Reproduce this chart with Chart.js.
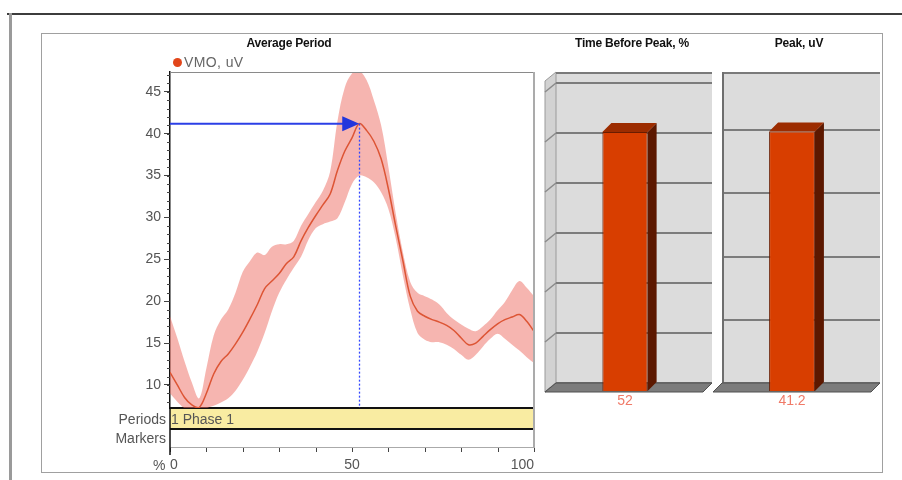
<!DOCTYPE html>
<html>
<head>
<meta charset="utf-8">
<script src="https://cdn.jsdelivr.net/npm/chart.js@4.4.1/dist/chart.umd.min.js"></script>
<style>
  html, body { margin: 0; padding: 0; background: #fff; }
  #wrap { position: relative; width: 902px; height: 480px; overflow: hidden; font-family: "Liberation Sans", Arial, sans-serif; }
  .abs { position: absolute; }
  .ttl { position: absolute; top: 36px; font-weight: bold; font-size: 12px; color: #111; white-space: nowrap; transform: translateX(-50%); letter-spacing: -0.2px; }
  .lbl { position: absolute; font-size: 14px; color: #555; white-space: nowrap; line-height: 16px; }
  canvas { position: absolute; }
</style>
</head>
<body>
<div id="wrap">
  <!-- outer frame -->
  <div class="abs" style="left:7px;top:13px;width:895px;height:2px;background:#3c3c3c"></div>
  <div class="abs" style="left:9px;top:13px;width:3px;height:467px;background:#9a9a9a"></div>
  <div class="abs" style="left:41px;top:33px;width:840px;height:438px;border:1px solid #a0a0a0"></div>

  <canvas id="avg" width="520" height="439" style="left:41px;top:33px"></canvas>
  <canvas id="tbp" width="172" height="355" style="left:540px;top:60px"></canvas>
  <canvas id="pk" width="172" height="355" style="left:712px;top:60px"></canvas>

  <div class="ttl" style="left:289px">Average Period</div>
  <div class="ttl" style="left:632px">Time Before Peak, %</div>
  <div class="ttl" style="left:799px">Peak, uV</div>

  <div class="abs" style="left:173px;top:58px;width:9px;height:9px;border-radius:50%;background:#e2461a"></div>
  <div class="lbl" style="left:184px;top:54px;color:#666;letter-spacing:0.4px">VMO, uV</div>

  <div class="lbl" style="right:736px;top:411px">Periods</div>
  <div class="lbl" style="right:736px;top:430px">Markers</div>
  <div class="lbl" style="left:171px;top:411px">1 Phase 1</div>
  <div class="lbl" style="left:153px;top:457px">%</div>
</div>

<script>
// ---- data -----------------------------------------------------------------
var pct = [0, 2, 4, 6, 8, 10, 12, 14, 16, 18, 20, 22, 24, 26, 28, 30, 32, 34, 36, 38, 40,
           42, 44, 46, 48, 50, 52, 54, 56, 58, 60, 62, 64, 66, 68, 70, 72, 74, 76, 78, 80,
           82, 84, 86, 88, 90, 92, 94, 96, 98, 100];
var meanUV = [11.5, 10.0, 8.5, 7.6, 7.3, 9.0, 11.3, 12.8, 13.7, 14.9, 16.3, 17.9, 19.6, 21.5, 22.4, 23.3, 24.5, 25.3, 27.2, 28.8, 30.2,
              31.5, 32.8, 35.6, 37.9, 39.5, 41.2, 40.4, 39.1, 37.0, 33.4, 29.0, 24.8, 20.6, 18.8, 18.2, 17.8, 17.5, 17.1, 16.5, 15.6,
              14.8, 15.0, 15.8, 16.6, 17.3, 17.8, 18.1, 18.4, 17.6, 16.4];
var upperUV = [18.2, 15.6, 12.8, 10.3, 8.4, 12.0, 15.9, 17.8, 19.0, 21.0, 23.5, 24.8, 25.8, 25.5, 26.5, 26.8, 26.8, 27.2, 29.0, 30.4, 31.8,
               33.2, 35.5, 41.5, 45.5, 47.2, 47.5, 46.4, 44.0, 41.0, 36.0, 30.5, 25.8, 22.3, 21.0, 20.6, 20.2, 19.6, 18.6, 17.8, 17.2,
               16.7, 16.4, 17.0, 17.8, 18.9, 19.9, 21.3, 22.4, 21.6, 20.6];
var lowerUV = [9.0, 8.0, 7.2, 6.8, 6.8, 7.2, 7.5, 7.9, 8.4, 9.3, 10.6, 12.2, 14.0, 16.2, 18.8, 21.0, 22.6, 24.0, 25.3, 27.3, 28.7,
               29.2, 29.5, 29.9, 31.8, 34.0, 35.0, 34.8, 34.2, 33.0, 31.0, 27.5, 23.0, 19.0, 16.2, 15.4, 15.1, 15.1, 14.8, 14.3, 13.6,
               13.0, 13.6, 14.6, 15.5, 16.1, 15.5, 14.8, 14.1, 13.3, 12.6];
var uvAxisMin = 7.24, uvAxisMax = 47.37;

var timeBeforePeak = [52];     // %
var peakUV = [41.2];           // uV
var timeAxisMax = 62.2, peakAxisMax = 49.2;

// ---- common ---------------------------------------------------------------
var FONT = '"Liberation Sans", Arial, sans-serif';
Chart.defaults.font.family = FONT;
Chart.defaults.animation = false;

function seg(ctx, x1, y1, x2, y2) { ctx.beginPath(); ctx.moveTo(x1, y1); ctx.lineTo(x2, y2); ctx.stroke(); }
function pts(vals) { return pct.map(function (x, i) { return { x: x, y: vals[i] }; }); }

/* ---- average period line chart ------------------------------------------ */
var periodsPlugin = {
  id: "periods",
  afterDatasetsDraw: function (chart) {
    var ctx = chart.ctx, a = chart.chartArea, x = chart.scales.x, y = chart.scales.y;
    var px = x.getPixelForValue(timeBeforePeak[0]), py = y.getPixelForValue(peakUV[0]);
    ctx.save();
    ctx.strokeStyle = "#2b3fe6"; ctx.lineWidth = 2;
    seg(ctx, a.left, py, px - 15, py);
    ctx.fillStyle = "#2236dc";
    ctx.beginPath(); ctx.moveTo(px - 17, py - 7.5); ctx.lineTo(px, py); ctx.lineTo(px - 17, py + 7.5); ctx.closePath(); ctx.fill();
    ctx.setLineDash([2, 2]); ctx.strokeStyle = "#3348ff"; ctx.lineWidth = 1.3;
    seg(ctx, Math.round(px) + 0.5, py, Math.round(px) + 0.5, a.bottom);
    ctx.restore();
  },
  afterDraw: function (chart) {
    var ctx = chart.ctx, a = chart.chartArea, x = chart.scales.x, y = chart.scales.y;
    ctx.save();
    ctx.strokeStyle = "#8a8a8a"; ctx.lineWidth = 1;
    seg(ctx, a.left, a.top + 0.5, a.right, a.top + 0.5);
    ctx.fillStyle = "#f9eca2";
    ctx.fillRect(a.left, a.bottom + 1, a.right - a.left, 20);
    ctx.strokeStyle = "#111"; ctx.lineWidth = 2;
    seg(ctx, a.left, a.bottom + 21, a.right, a.bottom + 21);
    ctx.strokeStyle = "#aaa"; ctx.lineWidth = 1;
    seg(ctx, a.left, a.bottom + 39.5, a.right, a.bottom + 39.5);
    ctx.strokeStyle = "#ababab"; ctx.lineWidth = 2;
    seg(ctx, a.right, a.top, a.right, a.bottom + 40);
    ctx.strokeStyle = "#444"; ctx.lineWidth = 1;
    x.ticks.forEach(function (t) {
      var p = Math.round(x.getPixelForValue(t.value)) + 0.5;
      seg(ctx, p, a.bottom + 40, p, a.bottom + 44);
    });
    ctx.strokeStyle = "#111"; ctx.lineWidth = 1.5;
    seg(ctx, a.left, a.bottom, a.left, a.bottom + 47);
    ctx.strokeStyle = "#444"; ctx.lineWidth = 1;
    for (var v = Math.ceil(y.min); v <= y.max; v++) {
      var q = Math.round(y.getPixelForValue(v)) + 0.5;
      seg(ctx, a.left - 3, q, a.left, q);
    }
    ctx.restore();
  }
};

new Chart(document.getElementById("avg"), {
  type: "line",
  data: {
    datasets: [
      { label: "VMO, uV", data: pts(meanUV), borderColor: "#dd5535", borderWidth: 1.5, pointRadius: 0, tension: 0.35, fill: false },
      { label: "upper", data: pts(upperUV), borderWidth: 0, borderColor: "rgba(0,0,0,0)", pointRadius: 0, tension: 0.35,
        fill: "+1", backgroundColor: "rgba(238,108,98,0.5)" },
      { label: "lower", data: pts(lowerUV), borderWidth: 0, borderColor: "rgba(0,0,0,0)", pointRadius: 0, tension: 0.35, fill: false }
    ]
  },
  options: {
    responsive: false, devicePixelRatio: 1,
    layout: { padding: { top: 39, left: 0, right: 27, bottom: 0 } },
    plugins: { legend: { display: false }, tooltip: { enabled: false } },
    scales: {
      x: {
        type: "linear", min: 0, max: 100,
        afterFit: function (s) { s.height = 64; },
        border: { color: "#111", width: 2 },
        grid: { drawOnChartArea: false, drawTicks: true, tickLength: 47, tickColor: "rgba(0,0,0,0)" },
        ticks: { stepSize: 10, autoSkip: false, maxRotation: 0, padding: 2, align: "inner", color: "#555", font: { size: 14 },
          callback: function (v) { return v % 50 === 0 ? String(v) : ""; } }
      },
      y: {
        min: uvAxisMin, max: uvAxisMax,
        afterFit: function (s) { s.width = 129; },
        border: { color: "#111", width: 1.5 },
        grid: { drawOnChartArea: false, tickLength: 6, tickColor: "#444" },
        ticks: { stepSize: 5, includeBounds: false, padding: 3, color: "#555", font: { size: 14 } }
      }
    }
  },
  plugins: [periodsPlugin]
});

/* ---- 3D-looking single bar panels --------------------------------------- */
var DX = -9, DY = 9;
function bar3d(leftWall) {
  return {
    id: "bar3d",
    beforeDraw: function (chart) {
      var ctx = chart.ctx, a = chart.chartArea;
      ctx.save();
      ctx.fillStyle = "#dcdcdc";
      ctx.fillRect(a.left, a.top, a.right - a.left, a.bottom - a.top);
      if (leftWall) {
        ctx.fillStyle = "#d2d2d2"; ctx.strokeStyle = "#9a9a9a"; ctx.lineWidth = 1;
        ctx.beginPath();
        ctx.moveTo(a.left, a.top); ctx.lineTo(a.left, a.bottom);
        ctx.lineTo(a.left + DX - 2, a.bottom + DY); ctx.lineTo(a.left + DX - 2, a.top + DY);
        ctx.closePath(); ctx.fill(); ctx.stroke();
      }
      ctx.restore();
    },
    beforeDatasetsDraw: function (chart) {
      var ctx = chart.ctx, a = chart.chartArea, ys = chart.scales.y;
      ctx.save();
      ctx.strokeStyle = "#7a7a7a"; ctx.lineWidth = 2;
      seg(ctx, a.left, a.top + 1, a.right, a.top + 1);
      if (leftWall) {
        ctx.lineWidth = 1.5; ctx.strokeStyle = "#8a8a8a";
        ys.ticks.forEach(function (t) {
          var p = ys.getPixelForValue(t.value);
          seg(ctx, a.left, p, a.left + DX - 2, p + DY);
        });
      } else {
        ctx.strokeStyle = "#6e6e6e"; ctx.lineWidth = 2;
        seg(ctx, a.left + 1, a.top, a.left + 1, a.bottom);
      }
      // floor
      ctx.fillStyle = "#7c7c7c"; ctx.strokeStyle = "#505050"; ctx.lineWidth = 1;
      ctx.beginPath();
      ctx.moveTo(a.left, a.bottom); ctx.lineTo(a.right, a.bottom);
      ctx.lineTo(a.right + DX, a.bottom + DY); ctx.lineTo(a.left + DX - (leftWall ? 2 : 0), a.bottom + DY);
      ctx.closePath(); ctx.fill(); ctx.stroke();
      // bar side and top faces
      chart.getDatasetMeta(0).data.forEach(function (el) {
        var p = el.getProps(["x", "y", "base", "width"], true);
        var l = p.x - p.width / 2, r = p.x + p.width / 2;
        ctx.fillStyle = "#5c1800";
        ctx.beginPath();
        ctx.moveTo(r + DX, p.y + DY); ctx.lineTo(r, p.y); ctx.lineTo(r, p.base); ctx.lineTo(r + DX, p.base + DY);
        ctx.closePath(); ctx.fill();
        ctx.fillStyle = "#9c2c00";
        ctx.beginPath();
        ctx.moveTo(l + DX, p.y + DY); ctx.lineTo(l, p.y); ctx.lineTo(r, p.y); ctx.lineTo(r + DX, p.y + DY);
        ctx.closePath(); ctx.fill();
      });
      ctx.restore();
    },
    beforeDatasetDraw: function (chart) { chart.ctx.save(); chart.ctx.translate(DX, DY); },
    afterDatasetDraw: function (chart) { chart.ctx.restore(); },
    afterDatasetsDraw: function (chart) {
      var ctx = chart.ctx, ds = chart.data.datasets[0];
      ctx.save();
      ctx.fillStyle = "#f07a68"; ctx.font = "14px " + FONT;
      ctx.textAlign = "center"; ctx.textBaseline = "middle";
      chart.getDatasetMeta(0).data.forEach(function (el, i) {
        var p = el.getProps(["x", "base"], true);
        ctx.fillText(String(ds.data[i]), p.x + DX, p.base + 19);
      });
      ctx.restore();
    }
  };
}

function barChart(id, label, values, max, padLeft, padRight, leftWall) {
  return new Chart(document.getElementById(id), {
    type: "bar",
    data: { labels: [label], datasets: [{ data: values, backgroundColor: "#d83e00", borderColor: "#6a1c00", borderWidth: 1,
      barPercentage: 0.29, categoryPercentage: 1 }] },
    options: {
      responsive: false, devicePixelRatio: 1,
      layout: { padding: { top: 12, left: padLeft, right: padRight, bottom: 32 } },
      plugins: { legend: { display: false }, tooltip: { enabled: false } },
      scales: {
        x: { display: false },
        y: {
          min: 0, max: max,
          afterFit: function (s) { s.width = 0; },
          border: { display: false },
          grid: { color: "#7c7c7c", lineWidth: 2, drawTicks: false },
          ticks: { display: false, stepSize: 10, includeBounds: false }
        }
      }
    },
    plugins: [bar3d(leftWall)]
  });
}

barChart("tbp", "Time Before Peak, %", timeBeforePeak, timeAxisMax, 16, 0, true);
barChart("pk", "Peak, uV", peakUV, peakAxisMax, 10, 4, false);
</script>
</body>
</html>
